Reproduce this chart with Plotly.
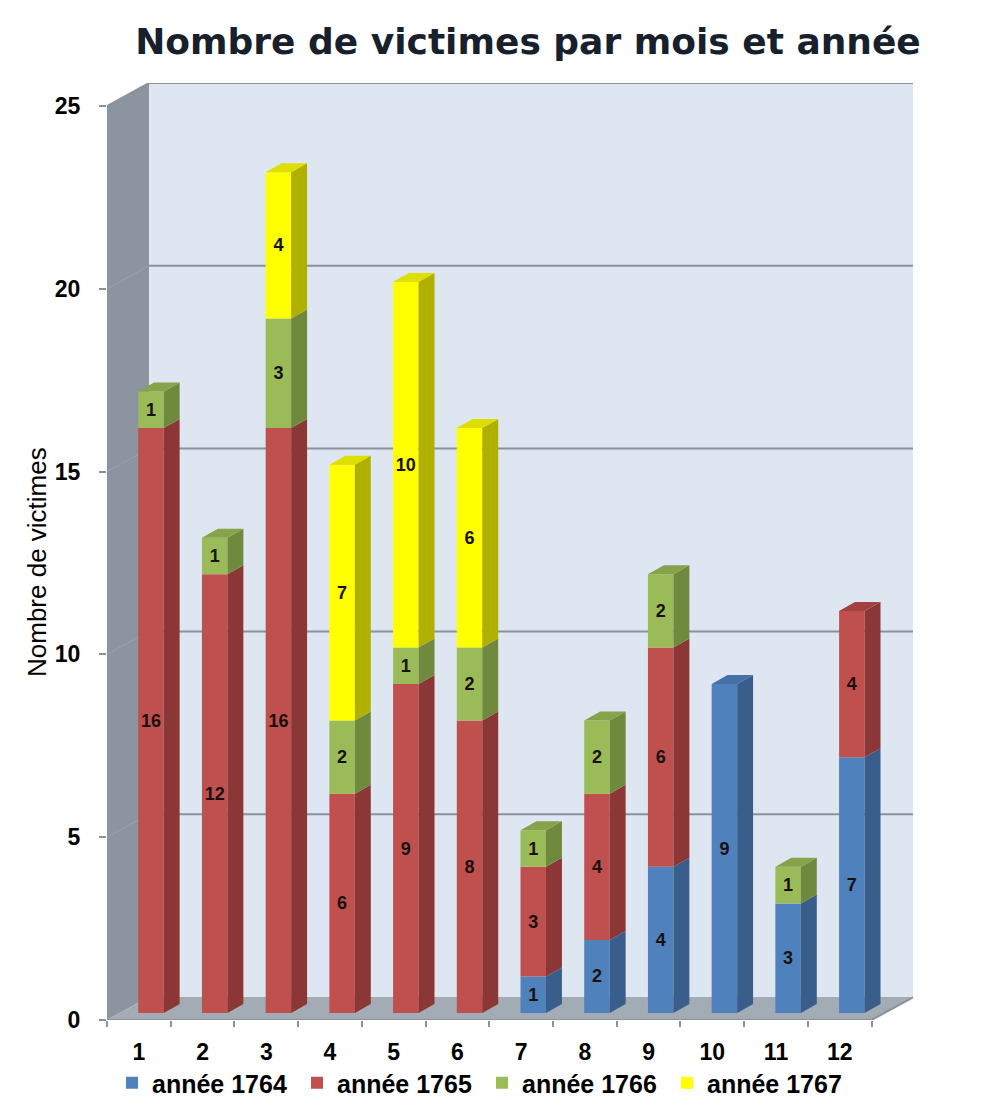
import plotly.graph_objects as go

# ---------------- data ----------------
months = list(range(1, 13))
month_labels = [str(m) for m in months]
years = ["année 1764", "année 1765", "année 1766", "année 1767"]
v1764 = [0, 0, 0, 0, 0, 0, 1, 2, 4, 9, 3, 7]
v1765 = [16, 12, 16, 6, 9, 8, 3, 4, 6, 0, 0, 4]
v1766 = [1, 1, 3, 2, 1, 2, 1, 2, 2, 0, 1, 0]
v1767 = [0, 0, 4, 7, 10, 6, 0, 0, 0, 0, 0, 0]
y_ticks = [0, 5, 10, 15, 20, 25]
title_text = "Nombre de victimes par mois et année"
y_title = "Nombre de victimes"

series = [v1764, v1765, v1766, v1767]
front_colors = ["#4f81bd", "#c0504d", "#9bbb59", "#ffff00"]
side_colors = ["#395e8c", "#8b3735", "#6f8a3d", "#b0b000"]
top_colors = ["#4571a8", "#a2413f", "#86a24b", "#dede00"]

# ---------------- geometry (style) ----------------
X_MIN, X_MAX = 0.5, 13.15
Y_MIN, Y_MAX = 0.0, 25.63
WDX, WDY = 0.659, 0.629          # wall depth offset
BAR_W = 0.40
BSX, BSY = 0.19, 0.19            # bar placement inside the depth
BDX, BDY = 0.25, 0.246           # bar depth

X_LO, X_HI = months[0] - 0.5, months[-1] + 0.5
Y_TOP = y_ticks[-1]

fig = go.Figure()
shapes = []

# walls and floor
shapes.append(dict(type="path", layer="below", xref="x", yref="y",
                   path=f"M{X_LO},0 L{X_LO},{Y_TOP} L{X_LO+WDX},{Y_TOP+WDY} L{X_LO+WDX},{WDY} Z",
                   fillcolor="#8b949f", line=dict(width=0)))
shapes.append(dict(type="rect", layer="below", xref="x", yref="y",
                   x0=X_LO + WDX, x1=X_HI + WDX, y0=WDY, y1=Y_TOP + WDY,
                   fillcolor="#dde6f1", line=dict(width=0)))
shapes.append(dict(type="path", layer="below", xref="x", yref="y",
                   path=f"M{X_LO},0 L{X_HI},0 L{X_HI+WDX},{WDY} L{X_LO+WDX},{WDY} Z",
                   fillcolor="#a3abb5", line=dict(width=0)))
for v in y_ticks[1:]:
    shapes.append(dict(type="line", layer="below", xref="x", yref="y",
                       x0=X_LO + WDX, x1=X_HI + WDX, y0=v + WDY, y1=v + WDY,
                       line=dict(color="#8a929c", width=2)))
    shapes.append(dict(type="line", layer="below", xref="x", yref="y",
                       x0=X_LO, x1=X_LO + WDX, y0=v, y1=v + WDY,
                       line=dict(color="#9aa2ac" if v != Y_TOP else "#8a929c",
                                 width=1 if v != Y_TOP else 2)))
shapes.append(dict(type="line", layer="below", xref="x", yref="y",
                   x0=X_LO, x1=X_HI, y0=0, y1=0, line=dict(color="#8a929c", width=2)))
shapes.append(dict(type="line", layer="below", xref="x", yref="y",
                   x0=X_HI, x1=X_HI + WDX, y0=0, y1=WDY, line=dict(color="#8a929c", width=2)))

# bars (front faces) + 3D side / top faces
cum = [0.0] * len(months)
for i, (name, vals) in enumerate(zip(years, series)):
    bases = [BSY + c for c in cum]
    fig.add_trace(go.Bar(
        x=months, y=vals, base=bases, name=name,
        width=BAR_W, offset=BSX - BAR_W / 2,
        marker=dict(color=front_colors[i], line=dict(width=0)),
        text=[str(v) if v else "" for v in vals],
        textposition="inside", insidetextanchor="middle", textangle=0,
        textfont=dict(family="Liberation Sans", size=18, color="#1a1010", weight="bold"),
        hoverinfo="x+y+name",
    ))
    for j, m in enumerate(months):
        v = vals[j]
        if not v:
            continue
        xl = m + BSX - BAR_W / 2
        xr = xl + BAR_W
        b0 = bases[j]
        b1 = b0 + v
        shapes.append(dict(type="path", layer="above", xref="x", yref="y",
                           path=f"M{xr},{b0} L{xr+BDX},{b0+BDY} L{xr+BDX},{b1+BDY} L{xr},{b1} Z",
                           fillcolor=side_colors[i], line=dict(width=0)))
    cum = [c + v for c, v in zip(cum, vals)]

# top faces
for j, m in enumerate(months):
    top_i = max(i for i in range(len(series)) if series[i][j])
    top = BSY + cum[j]
    xl = m + BSX - BAR_W / 2
    xr = xl + BAR_W
    shapes.append(dict(type="path", layer="above", xref="x", yref="y",
                       path=f"M{xl},{top} L{xr},{top} L{xr+BDX},{top+BDY} L{xl+BDX},{top+BDY} Z",
                       fillcolor=top_colors[top_i], line=dict(width=0)))

L, R, T, B = 107, 73, 83, 90
W, H = 986, 1110
plot_w = W - L - R
plot_h = H - T - B

fig.update_layout(
    width=W, height=H,
    margin=dict(l=L, r=R, t=T, b=B, pad=0, autoexpand=False),
    paper_bgcolor="white", plot_bgcolor="rgba(0,0,0,0)",
    barmode="overlay",
    uniformtext=dict(minsize=18, mode="show"),
    shapes=shapes,
    title=dict(text=title_text, x=528 / W, xanchor="center", xref="container",
               y=1 - 41 / H, yanchor="middle", yref="container",
               font=dict(family="DejaVu Sans", size=36, color="#18202c", weight="bold")),
    xaxis=dict(range=[X_MIN, X_MAX], tickmode="array", tickvals=months, ticktext=month_labels,
               ticks="", showgrid=False, zeroline=False, showline=False, automargin=False,
               ticklabelstandoff=16,
               tickfont=dict(family="Liberation Sans", size=23, color="black", weight="bold"),
               minor=dict(tickmode="array", tickvals=[m - 0.5 for m in months] + [months[-1] + 0.5],
                          ticks="outside", ticklen=6, tickcolor="#8a929c", tickwidth=1.5,
                          showgrid=False)),
    yaxis=dict(range=[Y_MIN, Y_MAX], tickmode="array", tickvals=y_ticks,
               ticks="outside", ticklen=7, tickcolor="#8a929c", tickwidth=1.5,
               showgrid=False, zeroline=False, showline=False, automargin=False,
               ticklabelstandoff=14,
               tickfont=dict(family="Liberation Sans", size=23, color="black", weight="bold")),
    legend=dict(orientation="h", xref="container", x=112 / W, xanchor="left",
                yref="container", y=1 - 1083 / H, yanchor="middle",
                font=dict(family="Liberation Sans", size=25, color="black", weight="bold"),
                traceorder="normal", itemwidth=30, entrywidth=140, entrywidthmode="pixels",
                bgcolor="rgba(0,0,0,0)"),
    annotations=[dict(text=y_title, textangle=-90, xref="paper", yref="paper",
                      x=(37 - L) / plot_w, y=(H - B - 562) / plot_h,
                      xanchor="center", yanchor="middle", showarrow=False,
                      font=dict(family="Liberation Sans", size=26, color="black"))],
    showlegend=True,
)

fig.write_html("out.html")
